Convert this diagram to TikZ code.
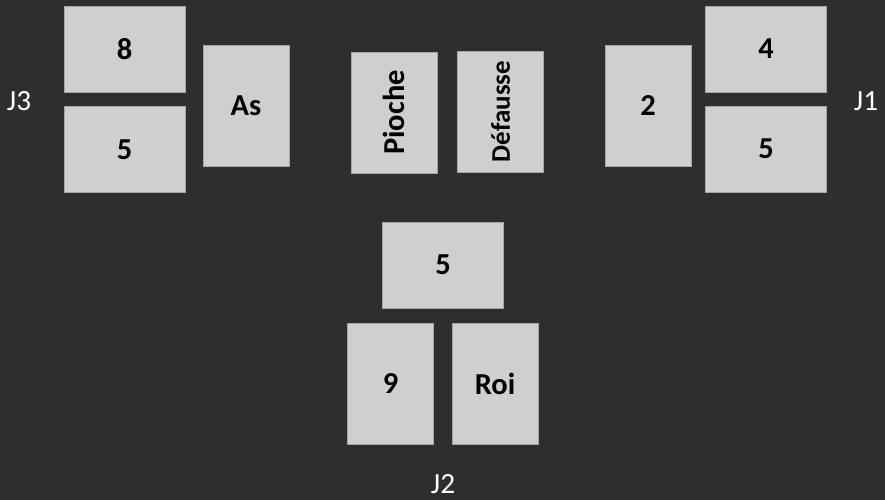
\documentclass[tikz,border=0pt]{standalone}
\usepackage{fontspec}
\setmainfont{Carlito}
\definecolor{tapis}{RGB}{46, 46, 46}
\definecolor{carte}{RGB}{208, 206, 206}
\definecolor{bord}{RGB}{165, 165, 165}
\usetikzlibrary{positioning}

\begin{document}
\begin{tikzpicture}[x=0.03cm, y=-0.03cm,
  cardh/.style={draw=bord, line width=0.4pt, fill=carte, minimum width=3.63cm, minimum height=2.58cm, inner sep=0pt, font=\fontsize{26}{30}\selectfont\bfseries, text=black},
  cardv/.style={cardh, minimum width=2.58cm, minimum height=3.63cm},
  joueur/.style={text=white, inner sep=0pt, font=\fontsize{25}{30}\selectfont}
]
  \fill[tapis] (0, 0) rectangle (885, 500);
  \useasboundingbox (0, 0) rectangle (885, 500);
  % joueur 3
  \node[joueur] (j3) at (19, 101) {J3};
  \node[cardh] (huit) at (124.5, 49) {8};
  \node[cardh] (cinqa) at (124.5, 149.5) {5};
  \node[cardv] (as) at (246, 105.5) {As};
  % pioche et defausse
  \node[cardh, rotate=90] (pioche) at (394, 112.5) {Pioche};
  \node[cardh, rotate=90, font=\fontsize{23}{28}\selectfont\bfseries] (defausse) at (500.5, 111.5) {Défausse};
  % joueur 1
  \node[cardv] (deux) at (648, 105.5) {2};
  \node[cardh] (quatre) at (766, 49) {4};
  \node[cardh] (cinqb) at (766, 149) {5};
  \node[joueur] (j1) at (866, 101) {J1};
  % joueur 2
  \node[cardh] (cinqc) at (443, 265) {5};
  \node[cardv] (neuf) at (390.5, 384) {9};
  \node[cardv] (roi) at (495, 384) {Roi};
  \node[joueur] (j2) at (443, 484) {J2};
\end{tikzpicture}
\end{document}
